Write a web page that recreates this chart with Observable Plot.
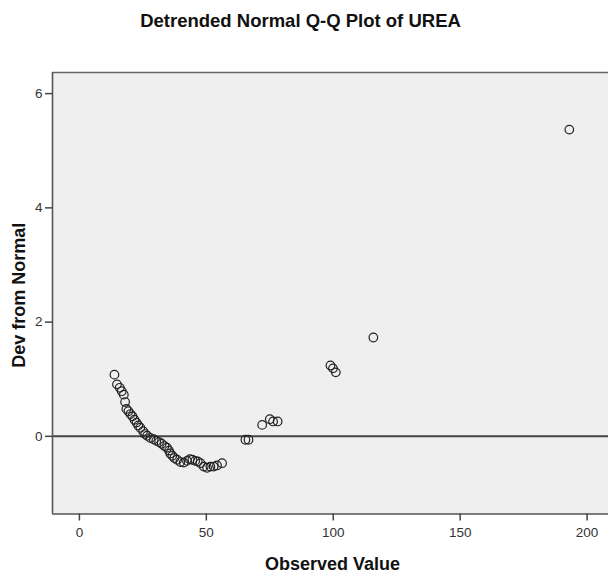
<!DOCTYPE html>
<html>
<head>
<meta charset="utf-8">
<script src="https://cdn.jsdelivr.net/npm/d3@7"></script>
<script src="https://cdn.jsdelivr.net/npm/@observablehq/plot@0.6"></script>
<style>
  html, body { margin: 0; padding: 0; background: #ffffff; overflow: hidden; }
  #chart { width: 608px; height: 574px; }
</style>
</head>
<body>
<div id="chart"></div>
<script>
// Data
const observedValue = [
  13.8, 14.8, 15.9, 16.7, 17.5, 18.0, 18.5, 19.3, 20.1, 20.9,
  21.7, 22.5, 23.2, 24.0, 25.1, 25.9, 26.7, 28.0, 29.3, 30.3,
  31.4, 32.4, 33.5, 34.5, 35.3, 35.8, 36.6, 37.4, 38.5, 39.8,
  41.1, 42.4, 43.5, 44.5, 45.6, 46.6, 47.7, 49.0, 50.3, 51.6,
  52.9, 54.2, 56.2,
  65.4, 66.6, 72.0, 75.0, 76.3, 78.1,
  98.9, 99.9, 101.0, 115.8, 193.0
];
const devFromNormal = [
  1.08, 0.91, 0.85, 0.79, 0.73, 0.60, 0.48, 0.44, 0.39, 0.35,
  0.29, 0.24, 0.19, 0.15, 0.09, 0.04, 0.01, -0.03, -0.05, -0.08,
  -0.10, -0.13, -0.17, -0.20, -0.25, -0.30, -0.34, -0.38, -0.41, -0.45,
  -0.46, -0.43, -0.40, -0.41, -0.43, -0.44, -0.47, -0.53, -0.55, -0.53,
  -0.53, -0.51, -0.47,
  -0.06, -0.06, 0.20, 0.30, 0.26, 0.26,
  1.24, 1.19, 1.12, 1.73, 5.37
];
const xTicks = [0, 50, 100, 150, 200];
const yTicks = [0, 2, 4, 6];
const xDomain = [-10.6, 210.8];
const yDomain = [-1.36, 6.37];
const titleText = "Detrended Normal Q-Q Plot of UREA";
const xLabel = "Observed Value";
const yLabel = "Dev from Normal";

const points = observedValue.map((v, i) => ({x: v, y: devFromNormal[i]}));

const font = "'Liberation Sans', Arial, Helvetica, sans-serif";

const chart = Plot.plot({
  width: 608,
  height: 574,
  marginTop: 72,
  marginBottom: 60.5,
  marginLeft: 52,
  marginRight: 0,
  style: {fontFamily: font, background: "#ffffff", overflow: "hidden"},
  x: {domain: xDomain, range: [52, 614]},
  y: {domain: yDomain},
  marks: [
    Plot.frame({fill: "#efefef", stroke: null}),
    Plot.ruleY([0], {stroke: "#444", strokeWidth: 2}),
    Plot.dot(points, {x: "x", y: "y", r: 4.3, stroke: "#222", strokeWidth: 1.2, fill: "none"}),
    Plot.ruleY([yDomain[1]], {stroke: "#666", strokeWidth: 1.6}),
    Plot.ruleY([yDomain[0]], {stroke: "#555", strokeWidth: 1.6}),
    Plot.ruleX([xDomain[0]], {stroke: "#555", strokeWidth: 1.6}),
    Plot.axisX({ticks: xTicks, tickSize: 7, tickPadding: 6, fontSize: 13.5, label: null, stroke: "#444", strokeWidth: 1.5, color: "#333"}),
    Plot.axisY({ticks: yTicks, tickSize: 7, tickPadding: 3, fontSize: 13.5, label: null, stroke: "#444", strokeWidth: 1.5, color: "#333"}),
    Plot.text([xLabel], {frameAnchor: "bottom", dx: 2, dy: 55.5, text: d => d, fontSize: 18, fontWeight: "bold", fill: "#111"}),
    Plot.text([yLabel], {frameAnchor: "left", textAnchor: "middle", lineAnchor: "middle", rotate: -90, dx: -33, dy: 2, text: d => d, fontSize: 18, fontWeight: "bold", fill: "#111"}),
    Plot.text([titleText], {frameAnchor: "top", dx: -30, dy: -59, text: d => d, fontSize: 18.5, fontWeight: "bold", fill: "#111"})
  ]
});
document.getElementById("chart").appendChild(chart);
</script>
</body>
</html>
